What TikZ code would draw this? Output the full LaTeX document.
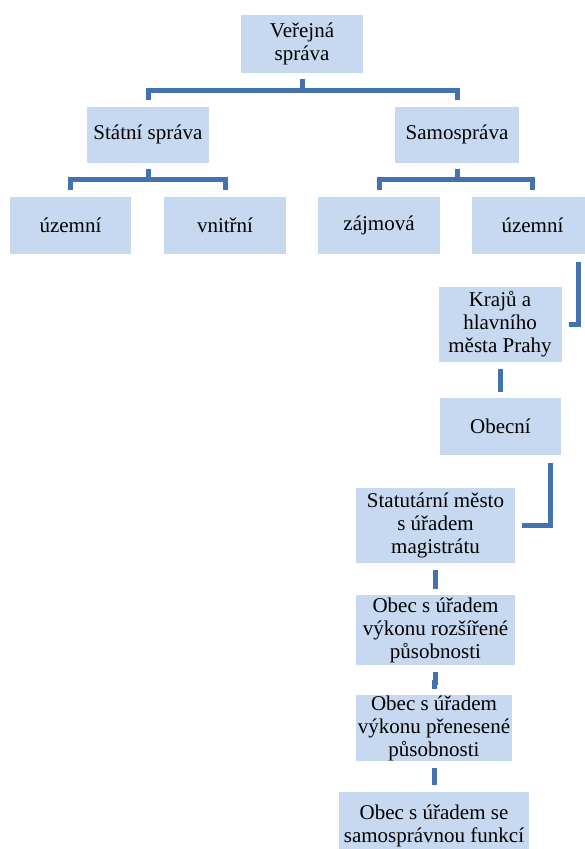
\documentclass[tikz,border=0pt]{standalone}
\usepackage{fontspec}
\setmainfont{Liberation Serif}
\usetikzlibrary{positioning}
\definecolor{light_blue}{RGB}{198,217,240}
\definecolor{line_blue}{RGB}{68,114,176}

\begin{document}
\begin{tikzpicture}[
      x=1pt,y=-1pt,
      mybox/.style={
         rectangle,
         fill=light_blue,
         inner sep=0pt,
         align=center,
         font=\fontsize{21}{23}\selectfont},
      myline/.style={
         draw=line_blue,
         line width=5pt},
      ]
      \useasboundingbox (0,0) rectangle (584,849);

      % top
      \node[mybox,minimum width=122pt,minimum height=58pt] (verejna) at (302,44) {Veřejná\\správa};

      \node[mybox,minimum width=122pt,minimum height=56pt] (statni) at (148,134.5) {Státní správa};
      \node[mybox,minimum width=124pt,minimum height=56pt] (samo) at (457,134.5) {Samospráva};

      % third row
      \node[mybox,minimum width=121pt,minimum height=57pt] (uzemni_a) at (70.5,225) {územní};
      \node[mybox,minimum width=122pt,minimum height=57pt] (vnitrni) at (225,225) {vnitřní};
      \node[mybox,minimum width=122pt,minimum height=57pt] (zajmova) at (379,225) {zájmová};
      \node[mybox,minimum width=121pt,minimum height=57pt] (uzemni_b) at (532.5,225) {územní};

      % chain of the self-government
      \node[mybox,minimum width=123pt,minimum height=75pt] (kraje) at (500,324.5) {Krajů a\\hlavního\\města Prahy};
      \node[mybox,minimum width=121pt,minimum height=57pt] (obecni) at (500.5,426.5) {Obecní};
      \node[mybox,minimum width=159pt,minimum height=75pt] (statut) at (435.5,525.5) {Statutární město\\s úřadem\\magistrátu};
      \node[mybox,minimum width=159pt,minimum height=70pt] (rozsirena) at (435.5,630) {Obec s úřadem\\výkonu rozšířené\\působnosti};
      \node[mybox,minimum width=156pt,minimum height=60pt] (prenesena) at (434,728) {Obec s úřadem\\výkonu přenesené\\působnosti};
      \node[mybox,minimum width=190pt,minimum height=69pt] (samospr) at (434,826) {Obec s úřadem se\\samosprávnou funkcí};

    %%% parent/left child/right child
    \foreach \p/\l/\r in {
      verejna/statni/samo,
      statni/uzemni_a/vnitrni,
      samo/zajmova/uzemni_b}
      {
      \draw [myline] ([yshift=-6pt]\p.south) -- ([yshift=-17pt]\p.south);
      \draw [myline] ([yshift=6pt]\l.north) |- ([yshift=-17pt]\p.south) -| ([yshift=6pt]\r.north);
      }

    % elbows on the right side
    \draw [myline] ([xshift=46pt,yshift=-8pt]uzemni_b.south) |- ([xshift=7pt]kraje.east);
    \draw [myline] ([xshift=50pt,yshift=-8pt]obecni.south) |- ([xshift=7pt]statut.east);

    \foreach \i/\j in {% upper node/lower node
      kraje/obecni,
      statut/rozsirena,
      rozsirena/prenesena,
      prenesena/samospr}
      \draw [myline] ([yshift=-7pt]\i.south) -- ++(0,10) -| ([yshift=6pt]\j.north);
\end{tikzpicture}
\end{document}
